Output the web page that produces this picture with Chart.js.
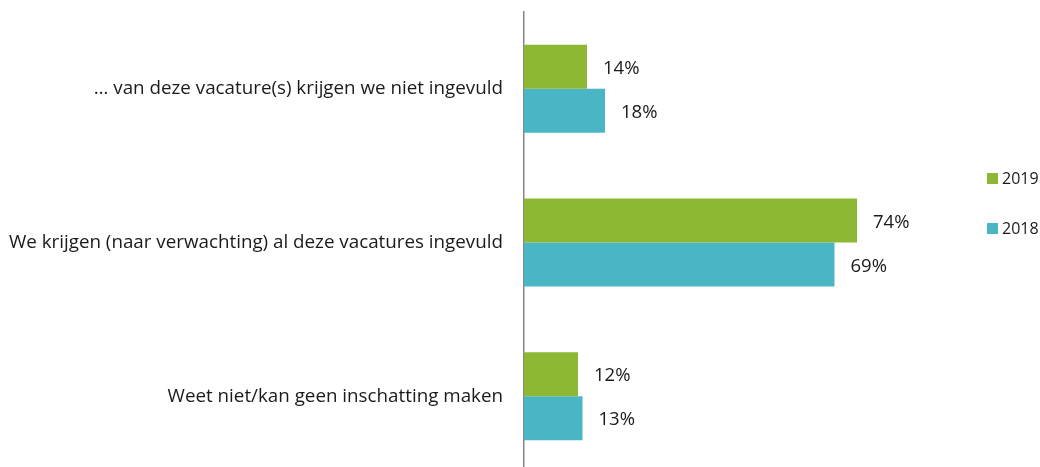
<!DOCTYPE html>
<html>
<head>
<meta charset="utf-8">
<script src="https://cdn.jsdelivr.net/npm/chart.js@4.4.0/dist/chart.umd.min.js"></script>
<style>
html,body{margin:0;padding:0;background:#fff;overflow:hidden;}
#wrap{width:1040px;height:473px;position:relative;}
</style>
</head>
<body>
<div id="wrap"><canvas id="c" width="1040" height="473"></canvas></div>
<script>
const categories = ["… van deze vacature(s) krijgen we niet ingevuld", "We krijgen (naar verwachting) al deze vacatures ingevuld", "Weet niet/kan geen inschatting maken"];
const seriesNames = ["2019", "2018"];
const values2019 = [14, 74, 12];
const values2018 = [18, 69, 13];
const xMax = 100;

const FONT = "'Open Sans', 'Noto Sans', sans-serif";
const GREEN = "#8CB833";
const TEAL = "#4AB5C4";

const valueLabels = {
  id: 'valueLabels',
  afterDatasetsDraw(chart) {
    const ctx = chart.ctx;
    ctx.save();
    ctx.font = "18.5px " + FONT;
    ctx.fillStyle = "#1a1a1a";
    ctx.textAlign = "left";
    ctx.textBaseline = "middle";
    chart.data.datasets.forEach((ds, i) => {
      chart.getDatasetMeta(i).data.forEach((bar, j) => {
        ctx.fillText(ds.data[j] + "%", bar.x + 16, bar.y + 2);
      });
    });
    ctx.restore();
  }
};

const sideLegend = {
  id: 'sideLegend',
  afterDraw(chart) {
    const ctx = chart.ctx;
    ctx.save();
    ctx.font = "16px " + FONT;
    ctx.textAlign = "left";
    ctx.textBaseline = "middle";
    const ys = [178.5, 228.5];
    chart.data.datasets.forEach((ds, i) => {
      ctx.fillStyle = ds.backgroundColor;
      ctx.fillRect(987, ys[i] - 5.5, 11, 11);
      ctx.fillStyle = "#1a1a1a";
      ctx.fillText(ds.label, 1002, ys[i] + 1);
    });
    ctx.restore();
  }
};

new Chart(document.getElementById('c'), {
  type: 'bar',
  data: {
    labels: categories,
    datasets: [
      { label: seriesNames[0], data: values2019, backgroundColor: GREEN, categoryPercentage: 0.573, barPercentage: 1 },
      { label: seriesNames[1], data: values2018, backgroundColor: TEAL, categoryPercentage: 0.573, barPercentage: 1 }
    ]
  },
  options: {
    indexAxis: 'y',
    responsive: false,
    animation: false,
    devicePixelRatio: 1,
    layout: { padding: { top: 12, right: 66, bottom: 0, left: 0 } },
    plugins: { legend: { display: false }, tooltip: { enabled: false } },
    scales: {
      x: { display: false, min: 0, max: xMax },
      y: {
        afterFit(scale) { scale.width = 524; scale.paddingTop = 0; scale.paddingBottom = 0; },
        grid: { drawOnChartArea: false, drawTicks: false },
        border: { display: true, color: "#868686", width: 1.5 },
        ticks: { padding: 21, color: "#1a1a1a", font: { family: FONT, size: 18.8 } }
      }
    }
  },
  plugins: [valueLabels, sideLegend]
});
</script>
</body>
</html>
